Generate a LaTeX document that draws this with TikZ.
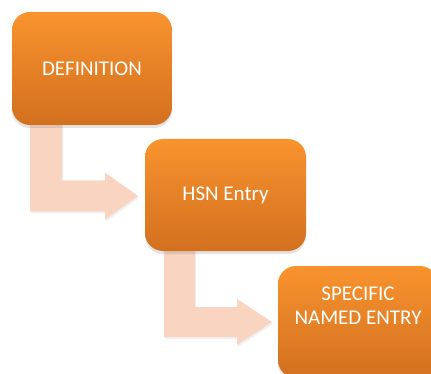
\documentclass[tikz,border=0pt]{standalone}
\usepackage{fontspec}
\setmainfont{Carlito}
\usetikzlibrary{calc,shadows}
\definecolor{boxtop}{HTML}{F8932E}
\definecolor{boxbot}{HTML}{D2701F}
\definecolor{arrowc}{HTML}{F9D4C0}
\tikzset{
  stepbox/.style={rectangle, rounded corners=18pt, top color=boxtop, bottom color=boxbot,
    draw=none, minimum width=160pt, minimum height=112pt, inner sep=0pt,
    drop shadow={opacity=0.22, shadow xshift=0pt, shadow yshift=-3pt}},
  boxtext/.style={text=white, font=\fontsize{21}{24}\selectfont, align=center},
  bentarrow/.style={fill=arrowc, draw=none,
    drop shadow={opacity=0.12, shadow xshift=1pt, shadow yshift=-2pt}}
}
\begin{document}
\begin{tikzpicture}[x=1pt,y=-1pt]
\useasboundingbox (0,0) rectangle (431,374);
\clip (0,0) rectangle (431,374);
% nodes positions (invisible first for coordinates)
\path (92,68.5) coordinate (p1) (225.5,195) coordinate (p2) (358,322) coordinate (p3);
% arrow 1 from b1 to b2
\coordinate (c1) at ($(p1)+(-62,0)$);
\coordinate (d1) at ($(p1)+(-30,0)$);
\coordinate (t1) at ($(p2)+(-87.5,1)$);
\coordinate (h1u) at ($(t1)+(-33,-15.5)$);
\coordinate (h1d) at ($(t1)+(-33,15.5)$);
\coordinate (h1a) at ($(t1)+(-33,-23.5)$);
\coordinate (h1b) at ($(t1)+(-33,23.5)$);
\path[bentarrow] (c1) -- (d1) -- (d1 |- h1u) -- (h1u) -- (h1a) -- (t1) -- (h1b) -- (h1d) -- (c1 |- h1d) -- cycle;
% arrow 2 from b2 to b3
\coordinate (c2) at ($(p2)+(-61.5,0)$);
\coordinate (d2) at ($(p2)+(-30.5,0)$);
\coordinate (t2) at ($(p3)+(-86,0)$);
\coordinate (h2u) at ($(t2)+(-35,-15)$);
\coordinate (h2d) at ($(t2)+(-35,15)$);
\coordinate (h2a) at ($(t2)+(-35,-23)$);
\coordinate (h2b) at ($(t2)+(-35,23)$);
\path[bentarrow] (c2) -- (d2) -- (d2 |- h2u) -- (h2u) -- (h2a) -- (t2) -- (h2b) -- (h2d) -- (c2 |- h2d) -- cycle;
% boxes
\node[stepbox, minimum height=113pt] (b1) at (p1) {};
\node[boxtext] (l1) at (b1.center) {DEFINITION};
\node[stepbox, minimum width=161pt] (b2) at (p2) {};
\node[boxtext] (l2) at (b2.center) {HSN Entry};
\node[stepbox] (b3) at (p3) {};
\node[boxtext] (l3) at ($(b3.center)+(0,-16)$) {SPECIFIC\\NAMED ENTRY};
\end{tikzpicture}
\end{document}
